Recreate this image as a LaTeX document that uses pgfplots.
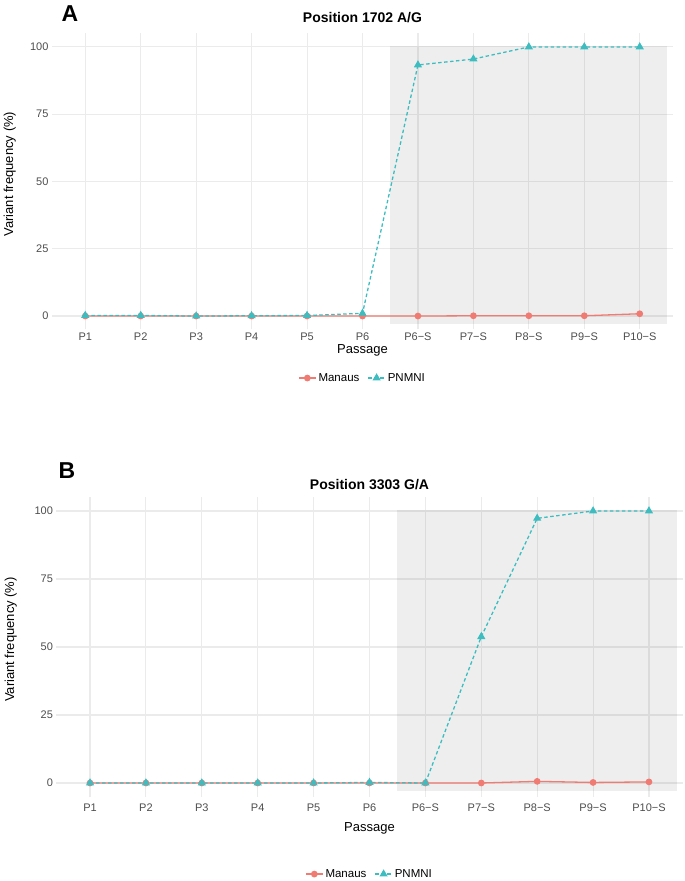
\documentclass[border=0pt]{standalone}
\usepackage{fontspec}
\setmainfont{Liberation Sans}
\usepackage{pgfplots}
\pgfplotsset{compat=1.18}
\definecolor{manaus}{HTML}{F07B72}
\definecolor{pnmni}{HTML}{3DBDC0}
\definecolor{gridc}{HTML}{EBEBEB}
\definecolor{tickc}{HTML}{4D4D4D}

\pgfplotsset{
  mystyle/.style={
    scale only axis,
    anchor=south west,
    xmin=0.4, xmax=11.6, ymin=-5, ymax=105,
    xtick={1,...,11},
    xticklabels={P1,P2,P3,P4,P5,P6,P6−S,P7−S,P8−S,P9−S,P10−S},
    ytick={0,25,50,75,100},
    axis line style={draw=none},
    major tick length=0pt,
    grid=major,
    major grid style={draw=gridc, line width=1.1pt},
    tick label style={font=\fontsize{11}{12}\selectfont, text=tickc},
    /pgf/number format/assume math mode=true,
    xlabel={Passage},
    ylabel={Variant frequency (\%)},
    label style={font=\fontsize{13}{15}\selectfont},
    ylabel style={at={(axis description cs:-0.068,0.525)}, anchor=center, rotate=0},
    title style={font=\fontsize{14}{16}\selectfont\bfseries, anchor=base},
    legend style={draw=none, fill=none, legend columns=2, anchor=center,
      font=\fontsize{11.5}{13}\selectfont,
      /tikz/every even column/.append style={column sep=6pt}},
    legend cell align=left,
    clip=false,
  },
  manstyle/.style={color=manaus, line width=1.3pt, mark=*, mark size=2.7pt, mark options={solid}},
  pnstyle/.style={color=pnmni, line width=1.3pt, dash pattern=on 3.5pt off 2.5pt, mark=triangle*, mark size=3.5pt, mark options={solid}},
}

\begin{document}
\begin{tikzpicture}
\useasboundingbox (0,0) rectangle (685pt,881pt);

% Panel A
\begin{axis}[mystyle,
  at={(52pt,551.5pt)}, width=621pt, height=296pt,
  title={Position 1702 A/G},
  title style={at={(axis description cs:0.5,1)}, yshift=5pt},
  xlabel style={at={(axis description cs:0.5,-0.069)}, anchor=center},
  legend style={at={(axis description cs:0.5,-0.164)}},
]
\fill[black, opacity=0.065] (axis cs:6.5,-3) rectangle (axis cs:11.5,100.5);
\addplot[manstyle] coordinates {(1,0) (2,0) (3,0) (4,0) (5,0) (6,0) (7,0) (8,0.1) (9,0.1) (10,0.1) (11,0.85)};
\addplot[pnstyle] coordinates {(1,0.2) (2,0.2) (3,0) (4,0.1) (5,0.2) (6,1.0) (7,93.3) (8,95.5) (9,100) (10,100) (11,100)};
\legend{Manaus,PNMNI}
\node[font=\fontsize{23}{26}\selectfont\bfseries, anchor=base] at (axis description cs:0.029,1.04) {A};
\end{axis}

% Panel B
\begin{axis}[mystyle,
  at={(56.5pt,84.4pt)}, width=626pt, height=299.2pt,
  title={Position 3303 G/A},
  title style={at={(axis description cs:0.5,1)}, yshift=2pt},
  xticklabel style={yshift=-3.5pt},
  xlabel style={at={(axis description cs:0.5,-0.105)}, anchor=center},
  ylabel style={at={(axis description cs:-0.073,0.525)}},
  legend style={at={(axis description cs:0.5,-0.259)}},
]
\fill[black, opacity=0.065] (axis cs:6.5,-3) rectangle (axis cs:11.5,100.5);
\addplot[manstyle] coordinates {(1,0) (2,0) (3,0) (4,0) (5,0) (6,0) (7,0) (8,0) (9,0.6) (10,0.2) (11,0.4)};
\addplot[pnstyle] coordinates {(1,0) (2,0) (3,0) (4,0) (5,0) (6,0.2) (7,0) (8,53.8) (9,97.3) (10,100) (11,100)};
\legend{Manaus,PNMNI}
\node[font=\fontsize{23}{26}\selectfont\bfseries, anchor=base] at (axis description cs:0.0168,1.0615) {B};
\end{axis}
\end{tikzpicture}
\end{document}
